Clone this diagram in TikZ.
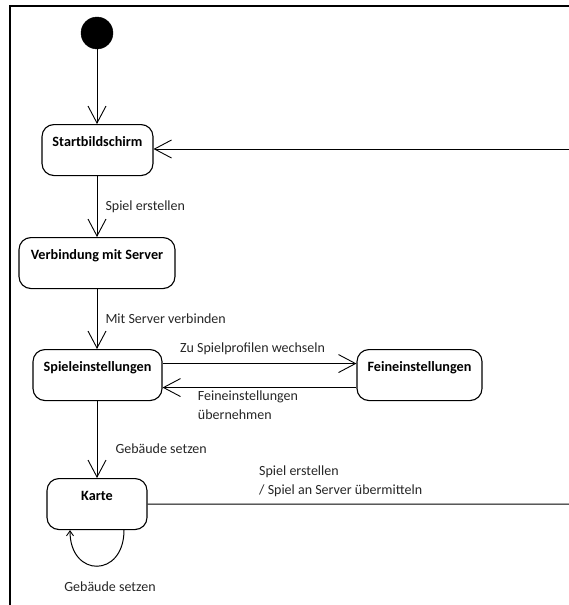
\documentclass[tikz,border=0pt]{standalone}
\usepackage{fontspec}
\setmainfont{Carlito}
\usetikzlibrary{arrows.meta}
\begin{document}
\begin{tikzpicture}[x=1pt,y=-1pt,
  state/.style={draw, line width=1.1pt, rounded corners=12pt, minimum height=51pt,
    inner sep=0pt, text height=21.5pt, text depth=29.5pt, anchor=north,
    font=\bfseries\fontsize{14.2}{17}\selectfont},
  conn/.style={line width=1pt, -{Straight Barb[length=17pt,width=18pt,line width=0.9pt]}},
  plain/.style={line width=1pt},
  lbl/.style={inner sep=0pt, text=black!85, font=\fontsize{14}{18.5}\selectfont}]
\useasboundingbox (0,0) rectangle (568,605);
% frame
\draw[line width=1.6pt] (10,610) -- (10,6) -- (575,6);
% nodes
\node[circle, fill=black, draw=black, minimum size=32pt, inner sep=0pt] (init) at (97,33) {};
\node[state, minimum width=111pt] (start) at (97.5,124) {Startbildschirm};
\node[state, minimum width=156pt] (verb) at (97,237) {Verbindung mit Server};
\node[state, minimum width=129pt] (spiel) at (97.5,349) {Spieleinstellungen};
\node[state, minimum width=125pt] (feine) at (419.5,349) {Feineinstellungen};
\node[state, minimum width=100pt] (karte) at (97,478) {Karte};
\coordinate (r1) at (575,504);
\coordinate (r2) at (575,149);
% connectors
\draw[conn] (init) -- (start.north -| init);
\draw[conn] (start.south -| init) -- node[lbl, midway, right=8pt] {Spiel erstellen} (verb.north -| init);
\draw[conn] (verb.south -| init) -- node[lbl, midway, right=8pt] {Mit Server verbinden} (spiel.north -| init);
\draw[conn] (spiel.south -| init) -- node[lbl, pos=0.62, right=18pt] {Gebäude setzen} (karte.north -| init);
\draw[conn] ([yshift=11.5pt]spiel.east) -- node[lbl, midway, above=8pt, xshift=-7pt] {Zu Spielprofilen wechseln} ([yshift=11.5pt]feine.west);
\draw[conn] ([yshift=-12.5pt]feine.west) -- node[lbl, pos=0.82, anchor=north west, yshift=-3pt, align=left] {Feineinstellungen\\übernehmen} ([yshift=-12.5pt]spiel.east);
\draw[plain] (karte.east) -- node[lbl, pos=0.26, anchor=south west, yshift=7pt, align=left] {Spiel erstellen\\/ Spiel an Server übermitteln} (r1) -- (r2);
\draw[conn] (r2) -- (start.east |- r2);
\draw[line width=1pt, -{Straight Barb[length=5pt,width=7pt,line width=0.9pt]}]
  ([xshift=27pt]karte.south) .. controls +(0,48) and +(0,48) .. node[lbl, pos=0.5, below=15pt, xshift=13pt] {Gebäude setzen} ([xshift=-27pt]karte.south);
\end{tikzpicture}
\end{document}
